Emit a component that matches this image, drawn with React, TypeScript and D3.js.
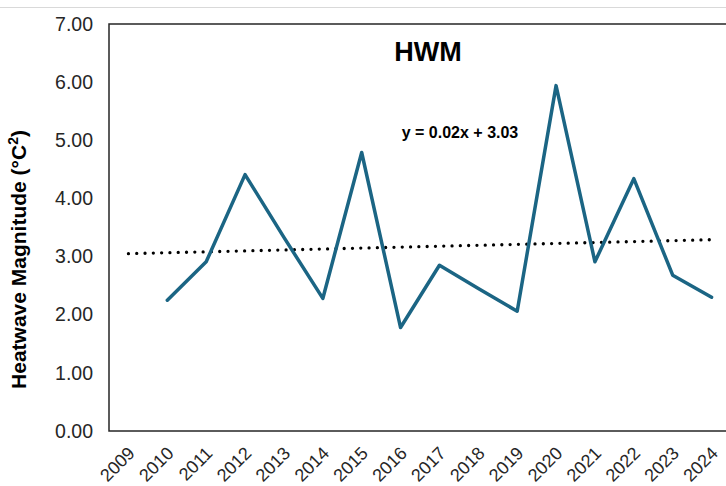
import React, { useEffect, useRef } from 'react';
import * as d3 from 'd3';

// categories on the x axis (2009 has no value)
const years = ['2009', '2010', '2011', '2012', '2013', '2014', '2015', '2016', '2017', '2018', '2019', '2020', '2021', '2022', '2023', '2024'];
const hwmYears = ['2010', '2011', '2012', '2013', '2014', '2015', '2016', '2017', '2018', '2019', '2020', '2021', '2022', '2023', '2024'];
const hwmValues = [2.25, 2.91, 4.41, 3.33, 2.28, 4.79, 1.78, 2.85, 2.45, 2.06, 5.94, 2.91, 4.34, 2.68, 2.30];
const yTicks = [0, 1, 2, 3, 4, 5, 6, 7];
// linear trendline (x = category index, 1-based)
const trendSlope = 0.016;
const trendIntercept = 3.034;
const trendLabel = 'y = 0.02x + 3.03';

const W = 726;
const H = 486;
const margin = { top: 24, right: -5, bottom: 55, left: 109 };

const App = () => {
  const svgRef = useRef<SVGSVGElement>(null);

  useEffect(() => {
    if (!svgRef.current) return;
    const svg = d3.select(svgRef.current);
    svg.selectAll('*').remove();

    const x = d3.scaleBand<string>()
      .domain(years)
      .range([margin.left, W - margin.right])
      .padding(0);
    const y = d3.scaleLinear()
      .domain([0, 7])
      .range([H - margin.bottom, margin.top]);
    const cx = (yr: string) => x(yr)! + x.bandwidth() / 2;

    const font = "'Liberation Sans', Arial, sans-serif";

    // container border at the top
    svg.append('line')
      .attr('x1', 0).attr('x2', W)
      .attr('y1', 7.5).attr('y2', 7.5)
      .attr('stroke', '#d9d9d9')
      .attr('stroke-width', 1);

    // plot frame
    svg.append('rect')
      .attr('x', margin.left)
      .attr('y', margin.top)
      .attr('width', W - margin.right - margin.left)
      .attr('height', y(0) - y(7))
      .attr('fill', 'none')
      .attr('stroke', '#262626')
      .attr('stroke-width', 1.5);

    // y axis labels
    const gy = svg.append('g')
      .attr('transform', `translate(${margin.left},0)`)
      .call(d3.axisLeft(y).tickValues(yTicks).tickSize(0).tickPadding(16).tickFormat(d3.format('.2f')));
    gy.select('.domain').remove();
    gy.selectAll('text')
      .attr('font-family', font)
      .attr('font-size', 19.5)
      .attr('fill', '#262626');

    // x axis labels, rotated
    const gx = svg.append('g')
      .attr('transform', `translate(0,${y(0)})`)
      .call(d3.axisBottom(x).tickSize(0).tickPadding(0));
    gx.select('.domain').remove();
    gx.selectAll('text')
      .attr('font-family', font)
      .attr('font-size', 18)
      .attr('fill', '#262626')
      .attr('text-anchor', 'end')
      .attr('dy', '0.35em')
      .attr('transform', 'translate(3,19) rotate(-45)');

    // trendline
    const t1 = 1;
    const t2 = years.length;
    svg.append('line')
      .attr('x1', cx(years[t1 - 1]))
      .attr('x2', cx(years[t2 - 1]))
      .attr('y1', y(trendSlope * t1 + trendIntercept))
      .attr('y2', y(trendSlope * t2 + trendIntercept))
      .attr('stroke', '#000')
      .attr('stroke-width', 3.3)
      .attr('stroke-linecap', 'round')
      .attr('stroke-dasharray', '0 8.3');

    // data line
    const line = d3.line<number>()
      .x((_, i) => cx(hwmYears[i]))
      .y(d => y(d));
    svg.append('path')
      .datum(hwmValues)
      .attr('d', line)
      .attr('fill', 'none')
      .attr('stroke', '#1b6584')
      .attr('stroke-width', 3.5)
      .attr('stroke-linejoin', 'round')
      .attr('stroke-linecap', 'round');

    // title
    svg.append('text')
      .attr('x', 428)
      .attr('y', 61)
      .attr('text-anchor', 'middle')
      .attr('font-family', font)
      .attr('font-weight', 'bold')
      .attr('font-size', 27)
      .attr('fill', '#000')
      .text('HWM');

    // trend equation
    svg.append('text')
      .attr('x', 460)
      .attr('y', 138)
      .attr('text-anchor', 'middle')
      .attr('font-family', font)
      .attr('font-weight', 'bold')
      .attr('font-size', 16)
      .attr('fill', '#000')
      .text(trendLabel);

    // y axis title
    const yt = svg.append('text')
      .attr('transform', `translate(26,${(y(0) + y(7)) / 2 + 32}) rotate(-90)`)
      .attr('text-anchor', 'middle')
      .attr('font-family', font)
      .attr('font-weight', 'bold')
      .attr('font-size', 21)
      .attr('fill', '#000');
    yt.append('tspan').text('Heatwave Magnitude (°C');
    yt.append('tspan').attr('font-size', 14).attr('dy', -8).text('2');
    yt.append('tspan').attr('dy', 8).text(')');
  }, []);

  return (
    <>
      <style>{'body{margin:0;background:#fff}'}</style>
      <svg ref={svgRef} width={W} height={H} style={{ display: 'block' }}></svg>
    </>
  );
};

export default App;
